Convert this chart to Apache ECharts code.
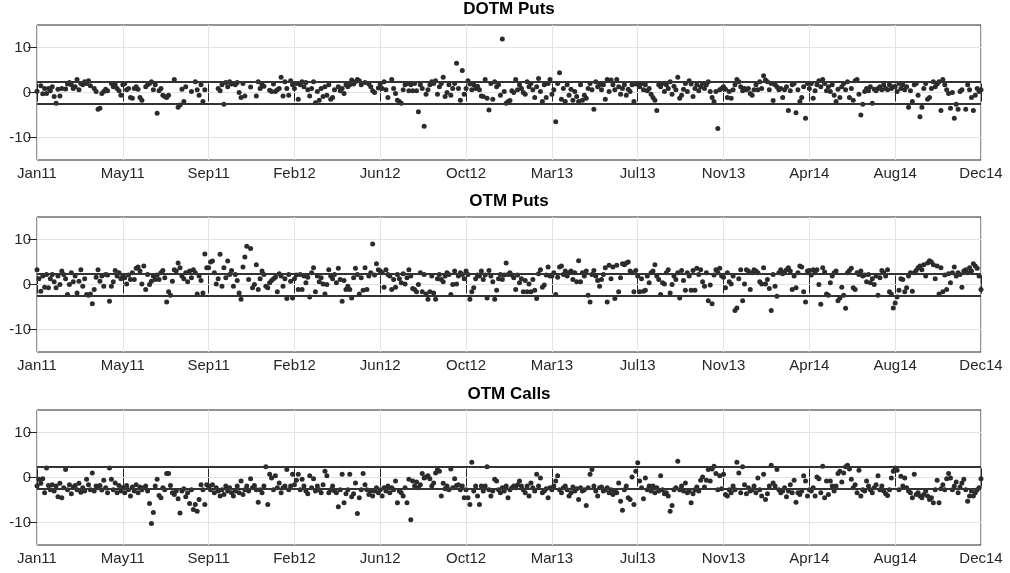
<!DOCTYPE html>
<html>
<head>
<meta charset="utf-8">
<script src="https://cdn.jsdelivr.net/npm/echarts@6/dist/echarts.min.js"></script>
<style>
  html, body { margin: 0; padding: 0; background: #ffffff; }
  #chart { width: 1010px; height: 573px; }
</style>
</head>
<body>
<div id="chart"></div>
<script>
// Tick labels on the trading-day axis (one label every TICK_DAYS days)
const TICK_LABELS = ['Jan11', 'May11', 'Sep11', 'Feb12', 'Jun12', 'Oct12', 'Mar13', 'Jul13', 'Nov13', 'Apr14', 'Aug14', 'Dec14'];
const TICK_DAYS = 90;
// one observation every DAY_STEP trading days; null = no observation
const DAY_STEP = 2;
// critical band drawn as two horizontal lines
const BAND = 2.5;
const PANEL_TITLES = ['DOTM Puts', 'OTM Puts', 'OTM Calls'];

const dotmPuts = [
  0.3, null, 1.5, -0.3, 0.9, -0.2, 0.9, 0.4, 1.3, -0.9, -2.4, 0.7, -0.8, 0.9, null, 0.8, 1.9, 2.2, 1.7, 0.9, 1.3, 2.9, 0.6, 2.0, 1.7, 2.4, 2.0, 2.6, 1.5, null, 0.9, 0.2, -3.7, -3.5, -0.2, 0.2, 0.7, 0.4, null, 2.0, 1.3, 1.7, 0.9, 0.4, -0.6,
  1.7, 2.0, 0.6, 0.9, -1.1, -1.3, 0.9, 1.3, 0.7, -1.1, -1.7, null, 1.3, 1.7, 2.0, 2.4, 0.6, 1.7, -4.6, 0.4, 0.9, -0.6, -0.9, -1.1, -0.6, null, null, 2.9, null, -3.3, -2.8, 0.7, -2.0, 1.3, null, null, 0.2, null, 2.4, 0.6, -0.6, 1.7, -2.0, 0.6, null,
  null, null, null, null, null, 0.9, 0.4, 1.7, -2.6, 2.2, 1.3, 2.4, 1.9, 2.0, 1.7, 2.2, 0.0, -1.1, 2.0, -0.8, null, null, 1.2, null, null, -0.8, 2.4, 0.9, 1.7, 1.4, null, null, 0.5, 0.2, 1.9, 0.2, 0.6, 0.9, 3.4, -0.8, 2.4, 0.9, -0.6, 2.6, 1.7,
  0.9, 2.0, -1.5, 1.7, 2.4, 1.3, 2.2, 0.6, -0.8, 0.9, 2.4, -2.3, 0.2, -1.7, 0.9, -0.9, 1.3, -0.6, 1.7, -1.5, -1.1, 0.6, null, 1.3, 0.4, 0.9, -0.2, 1.7, 1.3, 1.7, 2.8, 1.9, 2.4, 2.9, 2.6, 1.7, null, 2.2, null, 1.9, 1.3, 0.4, 0.0, null, 1.0,
  1.9, 0.9, 2.4, 0.6, -1.1, null, 2.9, 0.9, -0.2, -1.7, -2.0, -2.4, 0.6, 1.7, 2.0, 0.4, 1.7, 0.4, 2.0, 0.4, -4.3, 1.7, 0.9, -7.5, -0.4, 0.6, 1.7, 2.4, 2.0, 2.6, -0.4, 1.3, 2.0, 3.4, -0.9, 0.0, 1.7, -0.6, 0.9, 2.0, 6.5, 0.9, -1.7, 4.9, -0.4,
  0.9, 2.6, 1.9, 0.6, 1.7, 0.9, 1.4, 0.6, -0.8, -0.9, 2.9, -1.3, -3.9, 2.0, -1.5, 2.4, 1.3, 1.7, -0.6, 11.9, 0.2, -2.4, -2.0, -1.8, 0.4, 0.0, 2.9, 0.6, 1.7, 0.9, 0.0, -0.4, 2.4, 1.3, 2.0, 0.6, -1.1, 1.3, 3.1, 0.2, -2.0, 1.7, -1.1, 2.0, 2.9,
  -0.4, 0.6, -6.5, 2.0, 4.4, -1.5, 0.9, -2.0, 1.7, -0.6, 0.7, -1.7, 0.2, -0.9, -2.0, 1.7, -1.7, -0.6, -1.3, 0.9, 2.0, 0.6, -3.7, 2.4, 1.3, 1.7, 0.6, 1.7, -1.5, 2.9, 0.2, 2.8, 1.7, 0.6, 2.9, 1.3, -0.4, 0.9, 1.7, -0.6, 0.7, 0.2, 1.7, -2.0, 1.9,
  1.9, 1.3, 2.0, 0.6, 1.7, 0.4, 0.9, -0.4, -1.1, -1.7, -4.0, 1.7, 1.3, 2.0, 0.2, 1.7, 0.9, 2.4, -0.4, 1.4, 0.6, 3.4, -1.3, -0.6, 0.7, 2.0, 0.2, 2.6, 1.9, -0.9, 0.9, 1.7, 0.4, 1.3, 2.0, 0.9, 1.7, 2.4, 0.2, -1.1, -2.0, 0.2, -8.0, 0.6, 0.9,
  1.3, 0.7, -1.1, 0.2, -1.3, 0.6, 1.7, 2.9, 2.4, 1.3, 0.4, 0.9, 0.6, 0.9, -0.2, -0.6, 0.6, 1.7, 0.6, 2.4, 0.9, 3.7, 2.8, 2.4, 0.6, 2.0, -1.8, 1.7, 1.3, 0.6, 0.9, -1.1, 0.6, 1.3, -4.0, 0.4, 1.7, 2.0, -4.5, 0.6, -2.0, -1.1, 1.3, -5.7, 2.0,
  0.9, 2.0, -1.3, 0.4, 1.7, 2.6, 1.3, 2.9, 2.0, 0.4, 1.3, 0.2, 1.7, -0.6, -2.0, 0.7, -1.1, 1.3, 2.0, 0.6, 2.4, -1.1, 0.9, -1.7, 2.6, 2.9, -0.4, -5.0, -2.6, 0.2, 0.9, 0.4, 1.3, -2.4, 0.7, 0.4, 0.9, 1.3, 0.6, 1.7, 0.9, 0.6, 1.7, 0.9, 1.3,
  1.3, 0.2, 2.0, 0.9, 1.7, 0.6, 1.3, -3.3, 0.4, -2.0, 1.7, 2.0, -0.6, -5.4, -3.3, 0.9, 2.0, -1.5, -1.1, 0.9, 2.4, 1.3, 1.9, 2.4, -4.0, 2.9, 1.7, 0.6, -0.2, -3.5, 0.0, -5.7, -2.6, -3.7, 0.2, 0.6, null, -3.7, 1.7, 0.6, -1.1, -4.0, -0.6, 0.9, 0.2, 0.6
];

const otmPuts = [
  3.3, 1.3, -1.5, 1.9, -0.6, 2.2, -0.7, 1.3, 2.2, 0.6, -0.7, 1.9, 0.0, 3.0, 2.2, 1.3, -2.2, 0.0, 2.6, 0.6, 1.9, -1.9, 0.7, 3.3, -0.4, 1.3, -2.2, -2.4, -2.1, -4.3, -1.1, 1.6, 3.3, 0.7, 1.9, -0.4, 2.2, 2.1, -3.7, -0.4, 0.6, 3.1, 1.9, 2.6, 1.3,
  1.9, 1.5, 0.1, 2.1, 1.1, 2.6, 1.1, 3.6, 3.9, 3.0, 0.1, 4.1, -1.1, 2.2, 0.0, 0.7, 1.9, 1.1, 2.1, 1.1, 2.6, 3.1, 1.5, -3.9, -1.6, -2.4, 0.7, 3.3, 3.0, 4.8, 3.7, 1.9, 1.3, 2.6, 0.6, 3.0, 1.5, 3.3, 2.6, -2.1, 1.9, 0.9, -1.9, 6.8, 3.7,
  3.7, 5.0, 5.2, 2.6, 0.1, 1.3, 6.7, -0.4, 3.7, 1.5, 5.2, 2.2, 3.1, -0.4, 2.2, 0.9, -1.9, -3.3, 3.9, 6.1, 8.5, 1.1, 8.0, -0.7, 0.0, 4.4, -1.1, 1.3, 3.0, 2.2, -0.4, -0.7, 0.4, 0.9, 1.3, 1.6, -1.6, 2.4, 1.9, -0.4, 1.3, -3.1, 2.2, 0.7, -3.0,
  1.3, 2.1, -1.1, 2.2, -1.1, 1.9, 0.4, 1.6, -2.8, 2.6, 3.7, -1.6, 1.9, 0.6, 1.5, 0.1, -2.1, 0.0, 3.3, 1.9, 1.3, 2.2, 0.4, 3.6, 1.1, -3.7, 0.9, -1.1, -0.4, -1.1, -3.0, 1.5, 3.6, 2.2, -2.1, 1.5, -1.3, 3.7, -1.1, 1.9, 2.6, 9.0, 2.1, 4.6, 3.3,
  3.0, 2.6, -0.6, 3.3, 2.2, 1.9, -1.1, 1.1, -0.6, 2.2, 1.3, 0.4, 2.4, 0.1, 1.5, 3.3, 1.9, -0.9, -1.1, -1.6, 0.0, 2.6, -1.6, 2.2, -2.1, -3.3, -1.6, 1.9, -1.9, -3.3, 1.3, 2.2, 1.1, 0.6, 1.9, 2.6, 2.2, -2.2, 0.0, 3.0, 0.1, 1.9, 2.6, 2.2, 1.3,
  3.0, 2.2, -3.3, -1.6, -0.7, 1.3, 2.1, 1.9, 3.0, 1.1, 2.1, -3.0, 3.1, 1.9, 0.6, -3.3, -1.3, 1.3, 2.2, 1.1, 2.1, 4.8, 2.2, 2.6, 2.1, 1.5, -1.1, 2.1, 0.4, 1.3, -1.6, 0.9, -1.6, 0.1, -1.6, 1.1, -1.3, -3.1, 2.4, 3.3, -0.6, -0.1, 2.1, 3.9, 1.9,
  1.9, 2.6, -2.2, 1.6, 3.9, 4.1, 2.2, 3.0, 1.9, 2.6, 3.0, 1.1, 2.6, 0.6, 5.3, 0.6, 2.6, 1.9, 3.0, -2.4, -3.9, 2.2, 3.1, 1.9, 0.9, -0.4, 1.1, 2.2, 3.7, -3.9, 4.3, 1.3, 3.9, -3.1, 4.3, -1.6, 1.5, 4.6, 4.4, 4.8, 5.0, 3.0, 2.6, -1.6, 3.1,
  1.9, -1.6, 1.3, -1.5, -1.3, 1.9, 0.4, 2.6, 3.0, 4.4, 1.9, 1.1, -2.2, 0.4, 0.1, 2.6, 3.3, -1.9, 0.0, 1.9, 1.1, 2.6, -3.0, 3.1, 0.9, -1.3, 2.6, 1.9, -1.3, 3.1, -1.3, 3.6, 2.2, 3.3, 0.6, -0.4, 2.6, -3.6, -0.1, -4.3, 2.1, 3.3, 2.6, 3.6, 1.9,
  1.6, -0.7, 2.6, 0.6, 0.1, 1.9, -5.8, -5.2, 1.3, 3.3, -3.6, 0.1, 3.3, 3.0, -1.1, 2.6, 3.3, 3.0, 2.6, 0.6, 0.1, 3.7, 0.1, 1.1, -0.9, -5.8, 2.2, -0.4, -2.6, 2.6, 3.3, 2.4, 2.8, 3.3, 3.7, 3.0, -1.1, 1.9, -0.7, 2.6, 4.1, 3.9, -1.6, -3.9, 3.0,
  3.1, 2.1, 3.3, 2.6, 3.3, 0.0, -4.4, 3.7, 2.8, -2.1, -2.4, 0.4, 1.9, 2.6, 3.0, -3.6, -3.0, -0.6, -2.4, -5.3, 2.6, 3.1, 3.6, -0.7, -1.1, 2.6, 2.2, 3.0, 1.9, 2.1, 0.6, 2.2, 0.4, 1.3, 0.0, 1.9, -2.4, 1.5, 3.1, 2.6, 1.9, 3.3, -1.6, -2.1, -5.2,
  -4.1, -2.8, -1.3, 1.3, 1.1, -1.6, -0.7, 1.9, 2.6, -1.5, 2.6, 3.1, 3.7, 4.1, 3.3, 4.4, 1.9, 4.8, 5.3, 5.0, 4.4, 1.3, 4.1, -2.1, 3.7, -1.6, 2.1, -1.1, 2.4, 0.4, 2.6, 3.9, 1.9, 2.6, 2.2, -0.6, 3.0, 3.3, 2.6, 3.7, 3.0, 4.6, 4.1, 3.6, 1.9, -1.1
];

const otmCalls = [
  -1.9, -0.4, -1.3, -0.3, -3.4, 2.1, -1.8, -2.7, -1.6, -3.0, -1.9, -4.3, -1.3, -4.5, -2.3, 1.8, -2.7, -1.6, -3.6, -2.1, -1.8, -2.7, -1.3, -3.3, -2.3, -3.0, -0.4, -1.6, -2.7, 1.0, -3.0, -1.9, -2.3, -1.8, -2.8, -0.6, -2.3, -3.4, 2.1, -0.4, -2.7, -1.2, -3.4, -1.8, -3.0,
  -2.3, -3.4, -1.8, -2.7, -4.1, -2.1, -3.0, -1.6, -3.4, -2.1, -2.7, -2.3, -1.9, -3.0, -5.8, -10.2, -7.8, -1.9, -0.4, -4.0, -4.5, -2.3, -2.7, 0.9, 0.9, -1.8, -3.4, -3.8, -3.0, -4.7, -7.9, -3.0, -2.5, -4.3, -3.4, -5.8, -2.7, -7.1, -6.0, -7.5, -4.9, -1.6, -2.7, -6.0, -1.6,
  -1.9, -2.7, -1.6, -3.4, -2.3, -3.0, -4.1, -2.7, -3.8, -1.9, -3.0, -2.3, -3.4, -4.1, -3.0, -1.9, -3.4, -0.8, -3.8, -2.7, -1.9, -3.0, -0.3, -2.3, -1.8, -2.7, -5.5, -2.7, -3.4, -1.9, 2.4, -6.0, 0.7, -0.1, -2.7, 0.4, -2.3, -1.2, -3.4, -2.3, -1.9, 1.8, -2.7, -1.9, 0.7,
  -1.6, -0.6, 0.7, -2.7, -0.4, -1.9, -3.0, -3.6, 0.4, -2.3, -0.3, -3.0, -1.9, -2.7, -3.4, -1.6, 1.4, 0.4, -3.4, -2.7, -1.9, -3.0, -3.4, -6.5, -2.7, 0.7, -5.6, -3.6, -2.7, 0.7, -4.3, -3.6, -1.2, -8.0, -4.5, -2.7, 0.9, -1.6, -2.7, -3.8, -3.0, -4.1, -3.0, -2.3, -3.4,
  -2.7, -4.1, -2.3, -3.0, -1.9, -3.4, -2.3, -2.7, -0.8, -5.6, -3.0, -3.4, -4.1, -2.3, -5.6, -0.4, -9.4, -0.8, -1.9, -1.0, -2.3, -1.6, 0.9, -0.1, 0.1, 0.4, -0.3, -1.9, -1.2, 1.0, 1.8, 1.4, -4.1, -1.3, -2.5, -1.9, -2.7, 1.9, -2.3, -0.3, -1.8, -1.6, -2.7, -1.9, -4.5,
  -2.7, -4.5, -6.0, 3.4, -3.0, -1.9, -4.1, -6.0, -1.9, -3.0, -1.9, 2.4, -2.7, -4.1, -3.0, -0.4, -0.8, -2.7, -3.4, -2.3, -3.0, -1.9, -4.5, -2.7, -2.3, -1.9, -2.3, -1.6, -0.8, -1.9, -2.7, -3.4, -1.9, -4.1, -1.2, -2.3, -3.0, 0.7, -1.9, -0.1, -3.4, -3.0, -2.5, -4.5, -2.3,
  -2.7, -1.9, -0.8, 0.4, -2.7, -3.4, -2.3, -1.9, -2.7, -4.1, -3.4, -2.1, -3.0, -2.5, -4.9, -2.3, -3.0, -2.7, -6.2, -2.3, 0.7, 1.8, -1.9, -3.0, -4.1, -2.3, -2.1, -3.0, -2.7, -2.3, -3.4, -2.7, -3.8, -3.0, -3.4, -1.2, -5.3, -7.3, -2.7, -1.9, -4.5, -4.9, 0.1, -6.0, 1.4,
  3.3, -0.8, -2.3, -4.7, -0.1, -2.7, -1.9, -3.0, -1.9, -3.4, -2.3, -3.0, 0.4, -2.7, -3.6, -3.4, -4.1, -7.5, -6.2, -2.7, -2.3, 3.6, -2.7, -1.9, -3.0, -1.2, -3.4, -3.0, -5.6, -3.6, -2.7, -2.1, -3.0, -0.6, 0.1, -2.1, -0.6, 1.8, -0.8, 1.9, 2.5, 0.9, -2.7, 0.4, -2.5,
  0.7, -3.8, -4.1, -2.7, -3.4, -1.9, -2.7, 3.4, 1.0, -3.4, 2.4, -1.6, -3.6, -2.3, -3.0, -2.7, -1.9, -3.4, -0.1, -2.7, -4.1, 0.7, -4.9, -3.6, -1.9, 2.7, -1.2, -1.9, 1.8, -2.7, -3.4, -3.0, -2.3, -4.3, -3.0, -1.6, -3.4, -0.6, -5.5, -3.4, -3.8, -3.0, 0.4, -0.8, -4.1,
  -2.7, -3.0, -2.3, -4.1, 0.1, -0.3, -3.4, 2.5, -4.5, -0.8, -3.8, -0.8, -1.9, -3.0, -1.9, 0.9, 1.4, -1.0, 1.0, 2.4, 2.7, 1.9, -0.4, -2.3, -1.6, -3.4, 1.6, -4.1, -2.7, -3.0, -0.8, -1.9, -2.7, -3.4, -2.3, -1.6, 0.4, -2.7, -1.9, -3.0, -3.6, -4.0, -2.7, -0.1, 1.4,
  2.1, 1.6, -2.7, 0.3, -1.9, -0.1, -2.3, -3.0, -3.4, -4.5, 0.7, -3.8, -3.4, -4.1, -4.5, -3.8, -3.0, -4.1, -4.9, -4.5, -5.6, -2.7, -0.6, -5.6, -2.5, -1.6, -2.7, -0.3, 0.9, -0.1, -2.7, -1.9, -1.0, -3.4, -2.1, -1.2, -0.4, -2.7, -5.3, -4.1, -3.0, -4.1, -3.4, -2.7, -2.3, -0.3
];

const PANEL_VALUES = [dotmPuts, otmPuts, otmCalls];

// ---- layout & style ----
const INK = '#262626';
const GRID_LINE = '#e3e3e3';
const FONT = 'Liberation Sans, Arial, Helvetica, sans-serif';
const PANEL_TOPS = [25, 217, 410];
const PANEL_HEIGHT = 135;
const PLOT_LEFT = 37, PLOT_RIGHT = 29;
const X_MAX = TICK_DAYS * (TICK_LABELS.length - 1);
const Y_TICKS = [-10, 0, 10];

function toPoints(values) {
  const pts = [];
  values.forEach((v, i) => { if (v !== null) pts.push([i * DAY_STEP, v]); });
  return pts;
}

const grid = [], xAxis = [], yAxis = [], series = [], title = [];

PANEL_VALUES.forEach((values, p) => {
  grid.push({
    left: PLOT_LEFT, right: PLOT_RIGHT, top: PANEL_TOPS[p], height: PANEL_HEIGHT,
    show: true, borderColor: INK, borderWidth: 1, backgroundColor: '#ffffff'
  });

  title.push({
    text: PANEL_TITLES[p],
    left: PLOT_LEFT + (1010 - PLOT_LEFT - PLOT_RIGHT) / 2,
    textAlign: 'center',
    top: PANEL_TOPS[p] - 24,
    padding: 0,
    textStyle: { fontFamily: FONT, fontSize: 17, fontWeight: 'bold', color: '#000000' }
  });

  const xCommon = {
    gridIndex: p, type: 'value', min: 0, max: X_MAX, interval: TICK_DAYS,
    axisLine: { show: false },
    axisTick: { show: true, inside: true, length: 9, lineStyle: { color: INK, width: 1 } }
  };
  xAxis.push(Object.assign({}, xCommon, {
    position: 'bottom',
    axisLabel: {
      show: true, margin: 6, color: INK, fontFamily: FONT, fontSize: 15,
      showMinLabel: true, showMaxLabel: true,
      formatter: v => TICK_LABELS[Math.round(v / TICK_DAYS)] || ''
    },
    splitLine: { show: true, lineStyle: { color: GRID_LINE, width: 1 } }
  }));
  xAxis.push(Object.assign({}, xCommon, {
    position: 'top', axisLabel: { show: false }, splitLine: { show: false }
  }));

  const yCommon = {
    gridIndex: p, type: 'value', min: -15, max: 15, interval: 5,
    axisLine: { show: false },
    axisTick: { show: true, inside: true, length: 9, customValues: Y_TICKS, lineStyle: { color: INK, width: 1 } },
    splitLine: { show: false }
  };
  yAxis.push(Object.assign({}, yCommon, {
    position: 'left',
    axisLabel: {
      show: true, margin: 6, color: INK, fontFamily: FONT, fontSize: 15,
      customValues: Y_TICKS,
      formatter: v => (Y_TICKS.indexOf(v) >= 0 ? String(v) : '')
    }
  }));
  yAxis.push(Object.assign({}, yCommon, { position: 'right', axisLabel: { show: false } }));

  // horizontal grid lines at the labelled y ticks (kept beneath the dots)
  series.push({
    type: 'line', xAxisIndex: 2 * p, yAxisIndex: 2 * p, data: [], z: 1, silent: true,
    markLine: {
      z: 1, silent: true, symbol: ['none', 'none'], label: { show: false },
      lineStyle: { color: GRID_LINE, width: 1, type: 'solid' },
      data: Y_TICKS.map(v => ({ yAxis: v }))
    }
  });

  // observations
  series.push({
    type: 'scatter', name: PANEL_TITLES[p], xAxisIndex: 2 * p, yAxisIndex: 2 * p,
    data: toPoints(values), symbol: 'circle', symbolSize: 5, z: 3,
    itemStyle: { color: '#2b2b2b', opacity: 1 }
  });

  // band limits
  series.push({
    type: 'line', xAxisIndex: 2 * p, yAxisIndex: 2 * p, data: [], z: 4, silent: true,
    markLine: {
      z: 5, silent: true, symbol: ['none', 'none'], label: { show: false },
      lineStyle: { color: '#333333', width: 2, type: 'solid' },
      data: [{ yAxis: BAND }, { yAxis: -BAND }]
    }
  });
});

const chart = echarts.init(document.getElementById('chart'), null, { renderer: 'canvas' });
chart.setOption({
  animation: false,
  backgroundColor: '#ffffff',
  title, grid, xAxis, yAxis, series
});
</script>
</body>
</html>
